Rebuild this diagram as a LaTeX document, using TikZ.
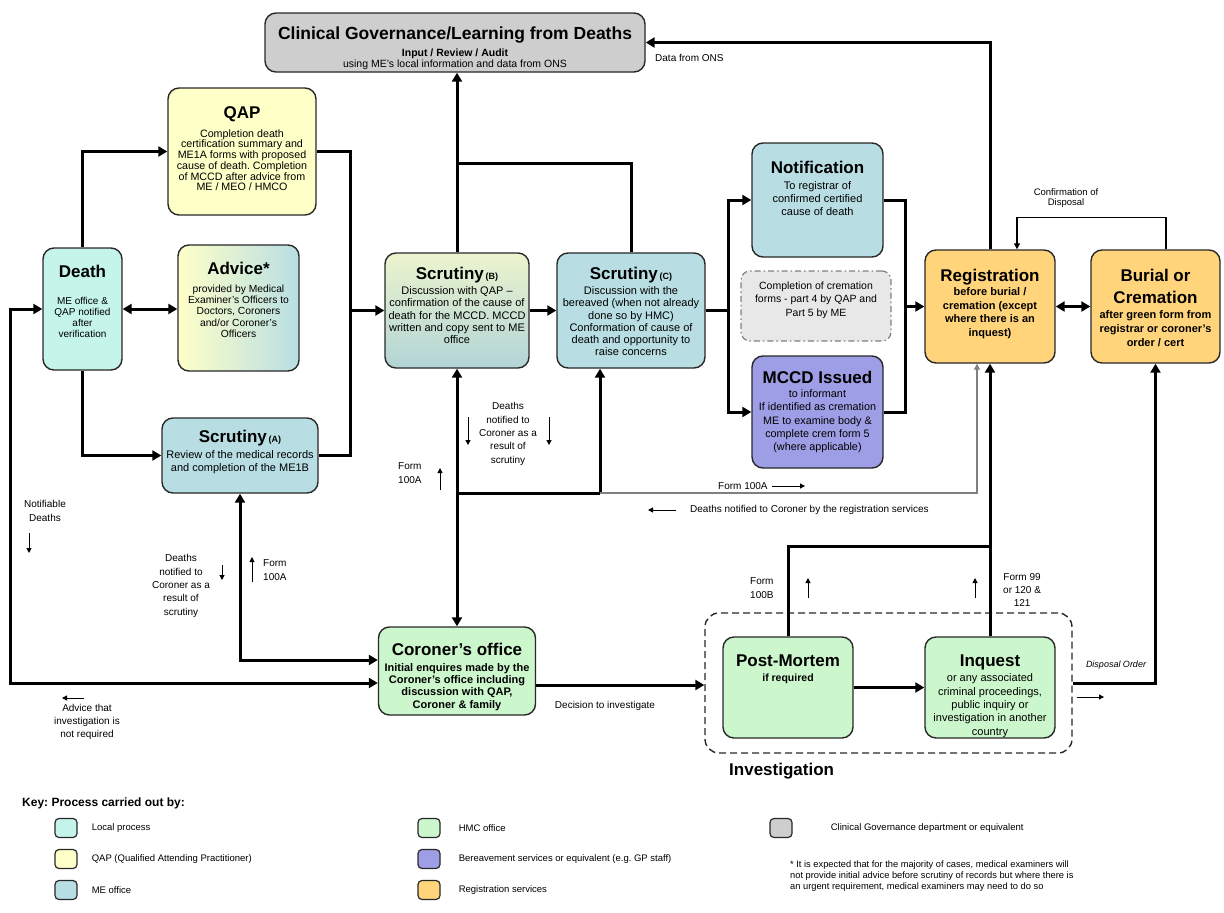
\documentclass[tikz,border=0pt]{standalone}
\usepackage{fontspec}
\setmainfont{Liberation Sans}
\usetikzlibrary{arrows.meta}
\usetikzlibrary{positioning}
\frenchspacing

\definecolor{localc}{RGB}{196,244,234}
\definecolor{qapc}{RGB}{255,255,200}
\definecolor{mec}{RGB}{184,222,228}
\definecolor{hmcc}{RGB}{204,246,204}
\definecolor{berc}{RGB}{158,158,230}
\definecolor{regc}{RGB}{255,212,122}
\definecolor{cgc}{RGB}{206,206,206}
\definecolor{cremc}{RGB}{232,232,232}
\definecolor{edgec}{RGB}{40,40,40}
\definecolor{scrbtop}{RGB}{236,244,206}
\definecolor{scrbbot}{RGB}{178,212,214}

\newcommand{\boxtitle}[1]{{\fontsize{17}{17}\selectfont\bfseries #1}}
\newcommand{\boxtag}[1]{{\fontsize{9}{9}\selectfont\bfseries #1}}

\tikzset{
  stage/.style={draw=edgec, line width=1.4pt, rounded corners=11pt, inner sep=0pt},
  stagetxt/.style={align=center, inner sep=0pt, anchor=north},
  pipe/.style={line width=3pt},
  flow/.style={pipe, -{Triangle[length=9pt,width=10pt]}},
  dflow/.style={pipe, {Triangle[length=9pt,width=10pt]}-{Triangle[length=9pt,width=10pt]}},
  thinflow/.style={line width=1.2pt, -{Triangle[length=6pt,width=6pt]}},
  grayflow/.style={thinflow, draw=gray},
  sarr/.style={line width=1pt, -{Triangle[length=5pt,width=5pt]}},
  lbl/.style={font=\fontsize{10}{13.3}\selectfont, align=center, inner sep=0pt},
  keysw/.style={draw=edgec, line width=1.2pt, rounded corners=4pt, minimum width=22pt, minimum height=19pt, inner sep=0pt},
  keytxt/.style={font=\fontsize{9.5}{11}\selectfont, anchor=west, inner sep=0pt}
}

\begin{document}
\begin{tikzpicture}[x=1pt,y=-1pt]
\useasboundingbox (0,0) rectangle (1224,913);

% stages
\node[stage, fill=cgc, minimum width=380pt, minimum height=59pt] (cg) at (455,42.5) {};
\node[stagetxt, font=\fontsize{10.5}{11.5}\selectfont, below=14pt of cg.north] (cgtxt) {{\fontsize{17.5}{17.5}\selectfont\bfseries Clinical Governance/Learning from Deaths}\\[5.5pt]{\bfseries Input / Review / Audit}\\using ME's local information and data from ONS};

\node[stage, fill=qapc, minimum width=148pt, minimum height=127pt] (qap) at (242,151.5) {};
\node[stagetxt, font=\fontsize{10.7}{10.7}\selectfont, below=19pt of qap.north] (qaptxt) {\boxtitle{QAP}\\[6.8pt]Completion death\\certification summary and\\ME1A forms with proposed\\cause of death. Completion\\of MCCD after advice from\\ME / MEO / HMCO};

\node[stage, fill=localc, minimum width=79pt, minimum height=122pt] (death) at (82.5,309) {};
\node[stagetxt, font=\fontsize{10}{11}\selectfont, below=17.6pt of death.north] (deathtxt) {\boxtitle{Death}\\[16pt]ME office \&\\QAP notified\\after\\verification};

\node[stage, left color=qapc, right color=mec, minimum width=121pt, minimum height=126pt] (advice) at (238.5,308) {};
\node[stagetxt, font=\fontsize{10.3}{11.3}\selectfont, below=18pt of advice.north] (advicetxt) {\boxtitle{Advice*}\\[6.2pt]provided by Medical\\Examiner's Officers to\\Doctors, Coroners\\and/or Coroner's\\Officers};

\node[stage, fill=mec, minimum width=156pt, minimum height=75pt] (scrA) at (240,455.5) {};
\node[stagetxt, font=\fontsize{11}{13.3}\selectfont, below=12.6pt of scrA.north] (scrAtxt) {\boxtitle{Scrutiny}\,\boxtag{(A)}\\[2.7pt]Review of the medical records\\and completion of the ME1B};

\node[stage, top color=scrbtop, bottom color=scrbbot, minimum width=144pt, minimum height=115pt] (scrB) at (457,310.5) {};
\node[stagetxt, font=\fontsize{11}{12.3}\selectfont, below=14.6pt of scrB.north] (scrBtxt) {\boxtitle{Scrutiny}\,\boxtag{(B)}\\[2.7pt]Discussion with QAP --\\confirmation of the cause of\\death for the MCCD. MCCD\\written and copy sent to ME\\office};

\node[stage, fill=mec, minimum width=148pt, minimum height=115pt] (scrC) at (631,310.5) {};
\node[stagetxt, font=\fontsize{11}{12.3}\selectfont, below=14.6pt of scrC.north] (scrCtxt) {\boxtitle{Scrutiny}\,\boxtag{(C)}\\[2.7pt]Discussion with the\\bereaved (when not already\\done so by HMC)\\Conformation of cause of\\death and opportunity to\\raise concerns};

\node[stage, fill=mec, minimum width=131pt, minimum height=114pt] (notif) at (817.5,200) {};
\node[stagetxt, font=\fontsize{11}{13.3}\selectfont, below=19pt of notif.north] (notiftxt) {\boxtitle{Notification}\\[2.2pt]To registrar of\\confirmed certified\\cause of death};

\node[draw=gray, fill=cremc, line width=1.2pt, dash pattern=on 6pt off 3pt on 1.5pt off 3pt, rounded corners=9pt, minimum width=150pt, minimum height=70pt] (crem) at (816,306) {};
\node[lbl, font=\fontsize{10.5}{13.3}\selectfont] (cremtxt) at ([yshift=6pt]crem.center) {Completion of cremation\\forms -  part 4 by QAP and\\Part 5 by ME};

\node[stage, fill=berc, minimum width=131pt, minimum height=112pt] (mccd) at (817.5,412) {};
\node[stagetxt, font=\fontsize{10.8}{13.3}\selectfont, below=15.6pt of mccd.north] (mccdtxt) {\boxtitle{MCCD Issued}\\[0.7pt]to informant\\If identified as cremation\\ME to examine body \&\\complete crem form 5\\(where applicable)};

\node[stage, fill=regc, minimum width=130pt, minimum height=113pt] (reg) at (990,306.5) {};
\node[stagetxt, font=\fontsize{11}{13.5}\selectfont\bfseries, below=19.6pt of reg.north] (regtxt) {\boxtitle{Registration}\\[1pt]before burial /\\cremation (except\\where there is an\\inquest)};

\node[stage, fill=regc, minimum width=129pt, minimum height=113pt] (burial) at (1155.5,306.5) {};
\node[stagetxt, font=\fontsize{11}{13.8}\selectfont\bfseries, below=19.6pt of burial.north] (burialtxt) {\boxtitle{Burial or}\\[8.2pt]\boxtitle{Cremation}\\[1.2pt]after green form from\\registrar or coroner's\\order / cert};

\node[stage, fill=hmcc, minimum width=157pt, minimum height=88pt] (cor) at (457,671) {};
\node[stagetxt, font=\fontsize{11}{12.2}\selectfont\bfseries, below=16.6pt of cor.north] (cortxt) {\boxtitle{Coroner's office}\\[3.8pt]Initial enquires made by the\\Coroner's office including\\discussion with QAP,\\Coroner \& family};

\node[draw=edgec, line width=1.4pt, dash pattern=on 7pt off 4pt, rounded corners=14pt, minimum width=367pt, minimum height=140pt] (invest) at (888.5,683) {};
\node[font=\fontsize{17}{17}\selectfont\bfseries, anchor=west, inner sep=0pt] (investtxt) at (729,771) {Investigation};

\node[stage, fill=hmcc, minimum width=130pt, minimum height=101pt] (pm) at (788,687.5) {};
\node[stagetxt, font=\fontsize{10.5}{13.3}\selectfont\bfseries, below=18.6pt of pm.north] (pmtxt) {\boxtitle{Post-Mortem}\\[1.7pt]if required};

\node[stage, fill=hmcc, minimum width=130pt, minimum height=101pt] (inq) at (990,687.5) {};
\node[stagetxt, font=\fontsize{11}{13.3}\selectfont, below=18.6pt of inq.north] (inqtxt) {\boxtitle{Inquest}\\[1.7pt]or any associated\\criminal proceedings,\\public inquiry or\\investigation in another\\country};

% joins
\coordinate (jq) at (350,310.5);
\coordinate (jc) at (728,310.5);
\coordinate (jr) at (905,306.5);
\coordinate (jcg) at (457,163);
\coordinate (jf) at (600,493);
\coordinate (jin) at (990,546);
\coordinate (lft) at (10,500);

% flows
\draw[flow] (death.north) |- (qap.west);
\draw[flow] (death.south) |- (scrA.west);
\draw[dflow] (death.east) -- (death.east -| advice.west);
\draw[pipe] (qap.east) -| (jq);
\draw[pipe] (scrA.east) -| (jq);
\draw[flow] (jq) -- (scrB.west);
\draw[flow] (scrB.east) -- (scrC.west);
\draw[pipe] (scrC.east) -- (jc);
\draw[flow] (jc) |- (notif.west);
\draw[flow] (jc) |- (mccd.west);
\draw[pipe] (notif.east) -| (jr);
\draw[pipe] (mccd.east) -| (jr);
\draw[flow] (jr) -- (reg.west);
\draw[dflow] (reg.east) -- (burial.west);
\draw[thinflow] ([xshift=10.5pt]burial.north) -- ++(0,-32) -| ([xshift=27pt]reg.north);
\draw[flow] (reg.north) |- (cg.east);
\draw[flow] (scrB.north) -- (scrB.north |- cg.south);
\draw[pipe] (scrC.north) |- (jcg);
\draw[dflow] (scrB.south) -- (cor.north);
\draw[pipe] (scrB.south |- jf) -- (jf);
\draw[flow] (jf) -- (jf |- scrC.south);
\draw[grayflow] (jf) -| ([xshift=-13pt]reg.south);
\draw[pipe] (pm.north) |- (jin);
\draw[flow] (inq.north) -- (reg.south);
\draw[flow] (pm.east) -- (inq.west);
\draw[flow] ([yshift=-14pt]cor.east) -- ([yshift=-14pt]cor.east -| invest.west);
\draw[flow] (invest.east) -| (burial.south);
\draw[dflow] (scrA.south) |- ([yshift=11pt]cor.west);
\draw[dflow] ([yshift=-12pt]cor.west) -| (lft) |- (death.west);

% labels
\node[lbl, font=\fontsize{9.5}{10.5}\selectfont] (disposal) at (1066,198) {Confirmation of\\Disposal};
\node[lbl, anchor=west] (ons) at (655,58) {Data from ONS};
\node[lbl] (notifiable) at (45,511) {Notifiable\\Deaths};
\draw[sarr] (29,533) -- (29,553);
\node[lbl] (scrutinyA) at (181,586) {Deaths\\notified to\\Coroner as a\\result of\\scrutiny};
\draw[sarr] (222,565) -- (222,580);
\node[lbl, anchor=west] (formA) at (263,570) {Form\\100A};
\draw[sarr] (252,582) -- (252,557);
\node[lbl] (scrutinyB) at (508,434) {Deaths\\notified to\\Coroner as a\\result of\\scrutiny};
\draw[sarr] (468,417) -- (468,445);
\draw[sarr] (549,417) -- (549,445);
\node[lbl, anchor=west] (formB) at (398,473) {Form\\100A};
\draw[sarr] (440,490) -- (440,468);
\node[lbl, anchor=west] (formC) at (718,486) {Form 100A};
\draw[sarr] (772,486) -- (805,486);
\node[lbl, anchor=west] (regsvc) at (690,510) {Deaths notified to Coroner by the registration services};
\draw[sarr] (676,510) -- (648,510);
\node[lbl, anchor=west] (formD) at (750,588) {Form\\100B};
\draw[sarr] (808,598) -- (808,578);
\node[lbl, anchor=west] (formE) at (1003,590) {Form 99\\or 120 \&\\121};
\draw[sarr] (975,598) -- (975,578);
\node[lbl] (noinv) at (87,722) {Advice that\\investigation is\\not required};
\draw[sarr] (84,698) -- (62,698);
\node[lbl] (decide) at (605,706) {Decision to investigate};
\node[lbl, font=\fontsize{9}{10}\selectfont\itshape] (order) at (1116,665) {Disposal Order};
\draw[sarr] (1077,697) -- (1104,697);

% key
\node[font=\fontsize{12}{12}\selectfont\bfseries, anchor=west, inner sep=0pt] (keyhead) at (22,803) {Key: Process carried out by:};
\node[keysw, fill=localc] (klocal) at (66,828) {};
\node[keytxt, right=14pt of klocal] (klocaltxt) {Local process};
\node[keysw, fill=qapc] (kqap) at (66,859) {};
\node[keytxt, right=14pt of kqap] (kqaptxt) {QAP (Qualified Attending Practitioner)};
\node[keysw, fill=mec] (kme) at (66,890) {};
\node[keytxt, right=14pt of kme] (kmetxt) {ME office};
\node[keysw, fill=hmcc] (khmc) at (429,828) {};
\node[keytxt, right=18pt of khmc] (khmctxt) {HMC office};
\node[keysw, fill=berc] (kber) at (429,859) {};
\node[keytxt, right=18pt of kber] (kbertxt) {Bereavement services or equivalent (e.g. GP staff)};
\node[keysw, fill=regc] (kreg) at (429,890) {};
\node[keytxt, right=18pt of kreg] (kregtxt) {Registration services};
\node[keysw, fill=cgc] (kcg) at (781,828) {};
\node[keytxt, right=38pt of kcg] (kcgtxt) {Clinical Governance department or equivalent};
\node[font=\fontsize{9.3}{11}\selectfont, align=left, anchor=north west, inner sep=0pt] (note) at (790,861) {* It is expected that for the majority of cases, medical examiners will\\not provide initial advice before scrutiny of records but where there is\\an urgent requirement, medical examiners may need to do so};

\end{tikzpicture}
\end{document}
